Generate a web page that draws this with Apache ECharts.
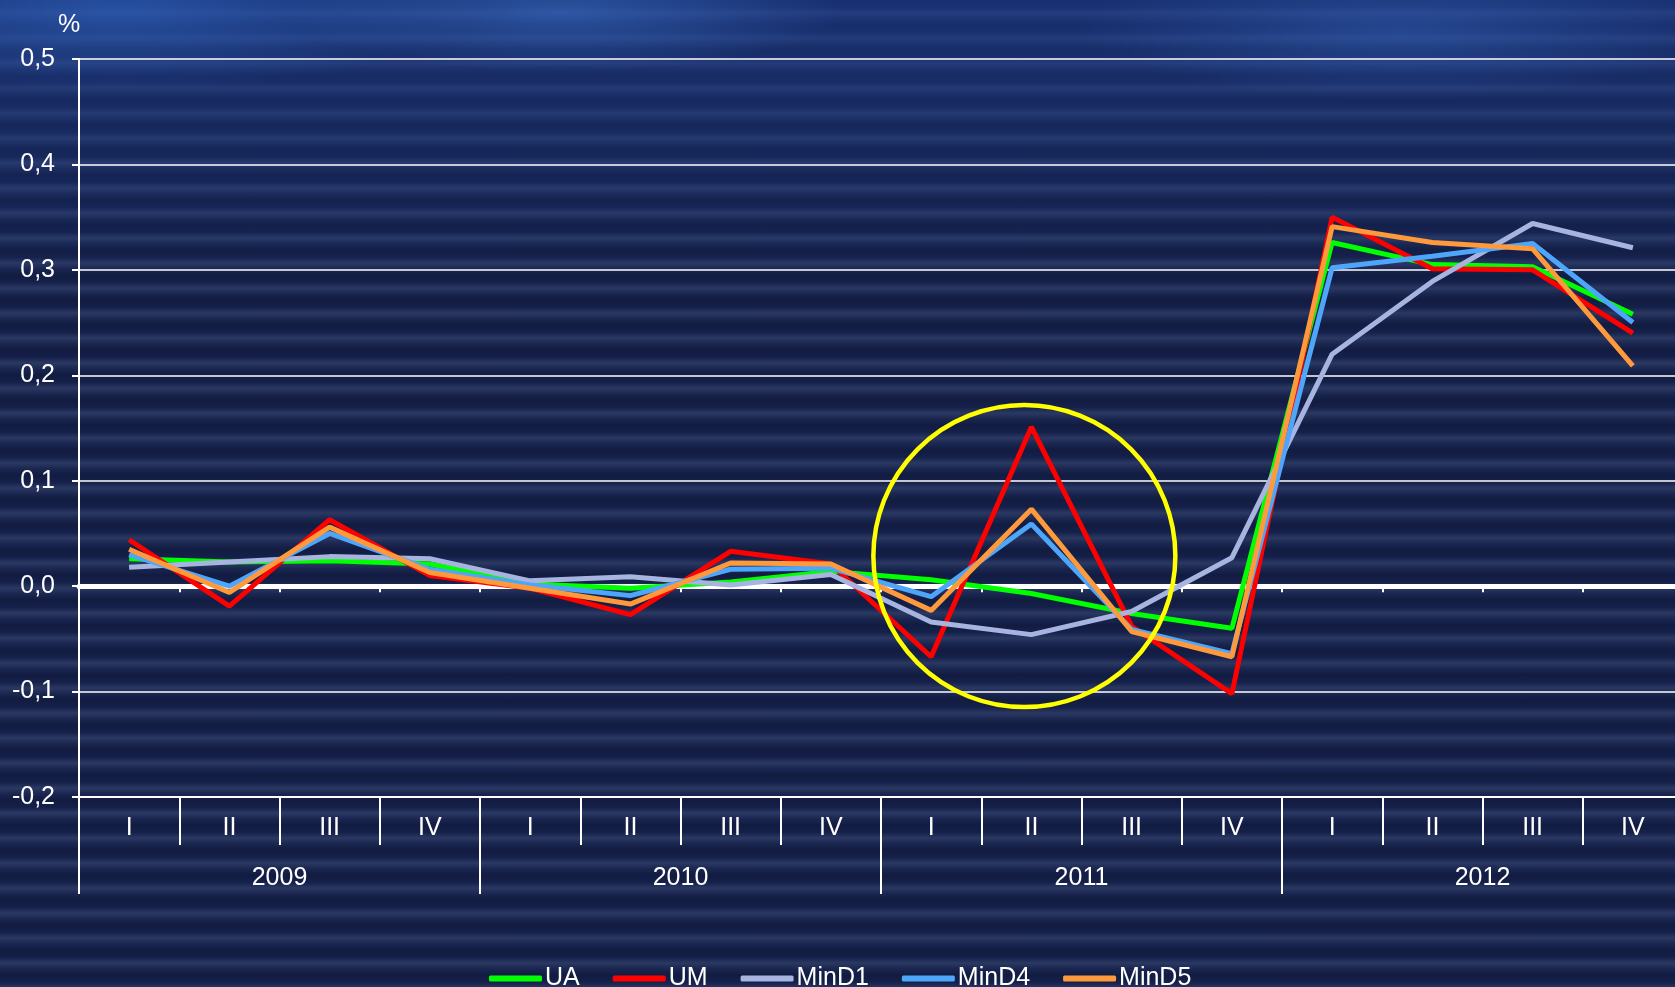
<!DOCTYPE html>
<html>
<head>
<meta charset="utf-8">
<script src="https://cdn.jsdelivr.net/npm/echarts@6/dist/echarts.min.js"></script>
<style>
  html, body { margin: 0; padding: 0; background: #141f45; }
  #main {
    width: 1675px;
    height: 987px;
    background:
      radial-gradient(ellipse 360px 80px at 120px 10px, rgba(50, 105, 200, 0.55), rgba(50, 105, 200, 0)),
      radial-gradient(ellipse 280px 60px at 560px 12px, rgba(60, 115, 205, 0.5), rgba(60, 115, 205, 0)),
      radial-gradient(ellipse 320px 70px at 1400px 30px, rgba(55, 105, 195, 0.4), rgba(55, 105, 195, 0)),
      linear-gradient(to bottom, rgba(30, 65, 150, 0.55) 0px, rgba(30, 65, 150, 0) 280px),
      repeating-linear-gradient(to bottom, #121c41 0px, #15204a 7px, #2a3862 13px, #1a2650 19px, #121c41 25px);
  }
</style>
</head>
<body>
<div id="main"></div>
<script>
  const quarters = ['I', 'II', 'III', 'IV', 'I', 'II', 'III', 'IV', 'I', 'II', 'III', 'IV', 'I', 'II', 'III', 'IV']
  const years = ['2009', '2010', '2011', '2012']
  const yTicks = { min: -0.2, max: 0.5, step: 0.1 }

  // values in %
  const UA = [0.026, 0.023, 0.024, 0.021, 0.002, -0.002, 0.004, 0.014, 0.006, -0.007, -0.026, -0.040, 0.326, 0.305, 0.303, 0.258]
  const UM = [0.044, -0.019, 0.063, 0.010, -0.002, -0.027, 0.033, 0.021, -0.067, 0.151, -0.038, -0.102, 0.350, 0.301, 0.300, 0.240]
  const MinD1 = [0.018, 0.023, 0.028, 0.026, 0.005, 0.009, 0.001, 0.011, -0.034, -0.046, -0.024, 0.027, 0.220, 0.289, 0.344, 0.321]
  const MinD4 = [0.030, 0.000, 0.050, 0.016, 0.001, -0.009, 0.016, 0.017, -0.010, 0.059, -0.041, -0.064, 0.302, 0.313, 0.325, 0.250]
  const MinD5 = [0.035, -0.006, 0.056, 0.013, -0.002, -0.017, 0.022, 0.021, -0.023, 0.073, -0.043, -0.067, 0.341, 0.326, 0.320, 0.209]

  const seriesList = [
    { name: 'UA', data: UA, color: '#00ff00' },
    { name: 'UM', data: UM, color: '#ff0000' },
    { name: 'MinD1', data: MinD1, color: '#a8b4e0' },
    { name: 'MinD4', data: MinD4, color: '#4ea6fb' },
    { name: 'MinD5', data: MinD5, color: '#ff9a3c' },
  ]

  const font = 'Liberation Sans, Arial, sans-serif'
  const white = '#ffffff'

  const chart = echarts.init(document.getElementById('main'))

  const option = {
    backgroundColor: 'transparent',
    animation: false,
    textStyle: { fontFamily: font, color: white },
    grid: {
      left: 79,
      top: 59,
      width: 1604,
      height: 738,
      containLabel: false,
      outerBoundsMode: 'none',
    },
    legend: {
      left: 484,
      top: 961,
      icon: 'roundRect',
      itemWidth: 53,
      itemHeight: 6,
      itemGap: 33,
      textStyle: { color: white, fontSize: 25, fontFamily: font, padding: [0, 0, 0, -2] },
      data: seriesList.map((s) => s.name),
    },
    xAxis: [
      // quarters
      {
        type: 'category',
        position: 'bottom',
        offset: 0,
        data: quarters,
        boundaryGap: true,
        axisLine: { onZero: false, lineStyle: { color: white, width: 2 } },
        axisTick: { show: true, length: 48, interval: 0, lineStyle: { color: white, width: 2 } },
        axisLabel: { interval: 0, margin: 19, color: white, fontSize: 25, fontFamily: font },
        splitLine: { show: false },
      },
      // years
      {
        type: 'category',
        position: 'bottom',
        offset: 0,
        data: years,
        boundaryGap: true,
        axisLine: { show: false, onZero: false },
        axisTick: { show: true, length: 97, interval: 0, lineStyle: { color: white, width: 2 } },
        axisLabel: { interval: 0, margin: 69, color: white, fontSize: 25, fontFamily: font },
        splitLine: { show: false },
      },
      // thick zero line
      {
        type: 'category',
        position: 'bottom',
        data: quarters,
        boundaryGap: true,
        axisLine: { show: true, onZero: true, lineStyle: { color: white, width: 5 } },
        axisTick: { show: true, length: 6, interval: 0, lineStyle: { color: white, width: 2 } },
        axisLabel: { show: false },
        splitLine: { show: false },
      },
    ],
    yAxis: {
      type: 'value',
      min: yTicks.min,
      max: yTicks.max,
      interval: yTicks.step,
      name: '%',
      nameLocation: 'end',
      nameGap: 21,
      nameTextStyle: { color: white, fontSize: 25, fontFamily: font, padding: [0, 20, 0, 0] },
      axisLine: { show: true, onZero: false, lineStyle: { color: white, width: 2 } },
      axisTick: { show: true, length: 7, lineStyle: { color: white, width: 2 } },
      axisLabel: {
        margin: 24,
        color: white,
        fontSize: 25,
        fontFamily: font,
        formatter: (v) => v.toFixed(1).replace('.', ','),
      },
      splitLine: { show: true, lineStyle: { color: white, width: 1.5 } },
    },
    series: seriesList.map((s) => ({
      name: s.name,
      type: 'line',
      xAxisIndex: 0,
      yAxisIndex: 0,
      data: s.data,
      symbol: 'none',
      showSymbol: false,
      color: s.color,
      lineStyle: { color: s.color, width: 5 },
      itemStyle: { color: s.color },
    })),
  }

  option && chart.setOption(option)

  // yellow ring around 2011 II
  const p8 = chart.convertToPixel({ xAxisIndex: 0, yAxisIndex: 0 }, [8, 0.0285])
  const p9 = chart.convertToPixel({ xAxisIndex: 0, yAxisIndex: 0 }, [9, 0.0285])
  chart.setOption({
    graphic: [
      {
        type: 'circle',
        z: 100,
        shape: { cx: p8[0] + 0.93 * (p9[0] - p8[0]), cy: p8[1], r: 151 },
        style: { fill: 'none', stroke: '#ffff00', lineWidth: 4.5 },
        silent: true,
      },
    ],
  })
</script>
</body>
</html>
